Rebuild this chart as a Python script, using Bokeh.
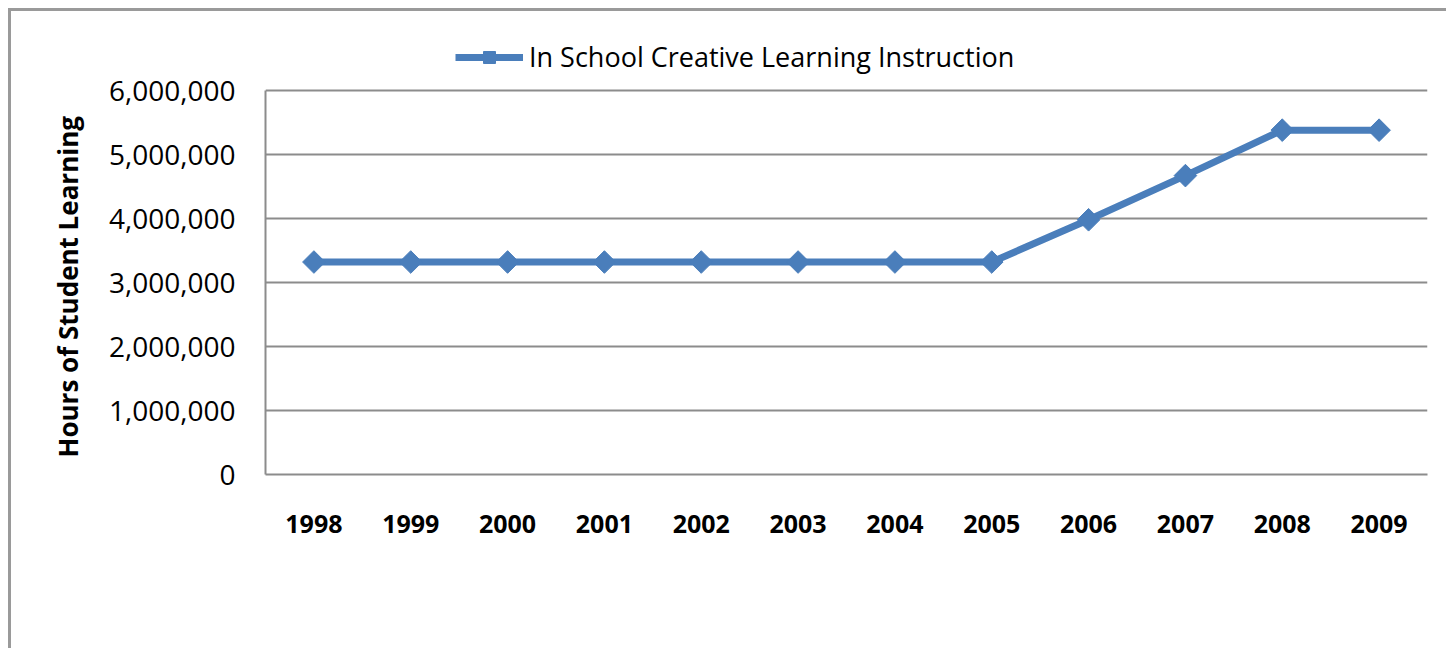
import numpy as np
from bokeh.plotting import figure
from bokeh.models import FactorRange, Range1d, Legend, LegendItem, NumeralTickFormatter, FixedTicker
from bokeh.embed import file_html
from bokeh.resources import INLINE

years = ["1998", "1999", "2000", "2001", "2002", "2003", "2004", "2005", "2006", "2007", "2008", "2009"]
hours = [3320000, 3320000, 3320000, 3320000, 3320000, 3320000, 3320000, 3320000, 3980000, 4670000, 5380000, 5380000]
series_name = "In School Creative Learning Instruction"
y_title = "Hours of Student Learning"
y_ticks = [0, 1000000, 2000000, 3000000, 4000000, 5000000, 6000000]
y_max = 6000000

BLUE = "#4a7ebb"
GRAY = "#8c8c8c"
FONT = "Open Sans"

# frame: 443 px tall, 6,000,000 sits 59 px below its top (room for the legend)
y_top = y_max * 443 / 384

p = figure(width=1438, height=640, x_range=FactorRange(*years, range_padding=0),
           y_range=Range1d(0, y_top), output_backend="svg", toolbar_location=None,
           min_border_left=254, min_border_right=22, min_border_top=20, min_border_bottom=177,
           styles={"margin": "8px 0 0 8px", "border-left": "3px solid #9a9a9a",
                   "border-top": "3px solid #9a9a9a"})
p.outline_line_color = None
p.background_fill_color = "white"
p.border_fill_color = "white"

line = p.line(years, hours, line_color=BLUE, line_width=7)
pts = p.scatter(years, hours, marker="square", angle=np.pi / 4, size=16,
                fill_color=BLUE, line_color=BLUE)

p.yaxis.ticker = FixedTicker(ticks=y_ticks)
p.yaxis.bounds = (0, y_max)
p.yaxis.formatter = NumeralTickFormatter(format="0,0")
# trailing no-break spaces centre the visible title on the 0..6,000,000 span
p.yaxis.axis_label = y_title + "\u00a0" * 10
p.yaxis.axis_label_text_font = FONT
p.yaxis.axis_label_text_font_style = "bold"
p.yaxis.axis_label_text_font_size = "26px"
p.yaxis.axis_label_text_color = "black"
p.yaxis.axis_label_standoff = 20
p.yaxis.major_label_text_font = FONT
p.yaxis.major_label_text_font_size = "28px"
p.yaxis.major_label_text_color = "black"
p.yaxis.major_label_standoff = 24
p.yaxis.major_tick_line_color = None
p.yaxis.minor_tick_line_color = None
p.yaxis.axis_line_color = GRAY
p.yaxis.axis_line_width = 2

p.xaxis.major_label_text_font = FONT
p.xaxis.major_label_text_font_style = "bold"
p.xaxis.major_label_text_font_size = "25px"
p.xaxis.major_label_text_color = "black"
p.xaxis.major_label_standoff = 34
p.xaxis.major_tick_line_color = None
p.xaxis.axis_line_color = GRAY
p.xaxis.axis_line_width = 2

p.xgrid.grid_line_color = None
p.ygrid.grid_line_color = GRAY
p.ygrid.grid_line_width = 2

legend = Legend(items=[LegendItem(label=series_name, renderers=[line, pts])],
                location=(190, 399), orientation="horizontal",
                label_text_font=FONT, label_text_font_size="27px",
                label_text_color="black",
                glyph_width=68, glyph_height=30, padding=0, margin=0,
                border_line_color=None, background_fill_alpha=0,
                label_standoff=6)
p.add_layout(legend, "center")

open("out.html", "w").write(file_html(p, INLINE))
